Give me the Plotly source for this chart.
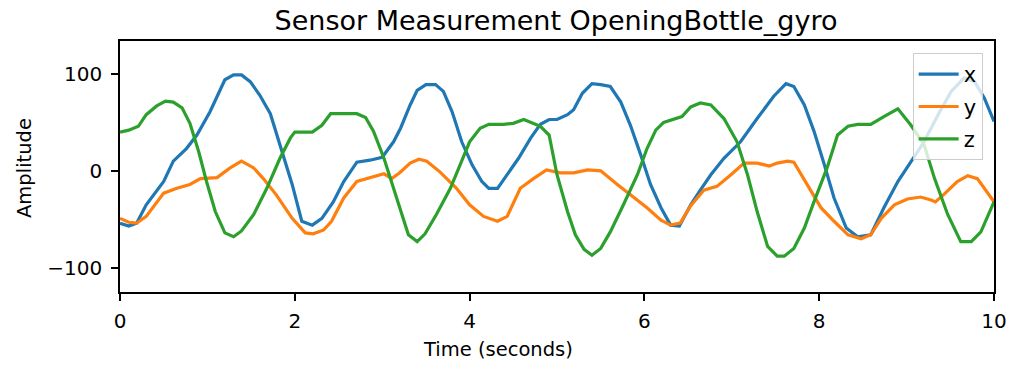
import plotly.graph_objects as go

# Time stamps (seconds) and readings for each gyro axis
t_x = [0, 0.1, 0.19, 0.3, 0.5, 0.61, 0.76, 0.88, 1.03, 1.2, 1.3, 1.39, 1.49, 1.6, 1.72, 1.83, 1.97,
       2.08, 2.2, 2.31, 2.44, 2.56, 2.71, 2.86, 3.0, 3.13, 3.21, 3.32, 3.4, 3.5, 3.61, 3.7, 3.8, 3.91,
       4.03, 4.14, 4.22, 4.32, 4.43, 4.56, 4.7, 4.81, 4.91, 5.0, 5.12, 5.19, 5.29, 5.4, 5.5, 5.61,
       5.73, 5.84, 5.96, 6.07, 6.19, 6.3, 6.4, 6.53, 6.64, 6.76, 6.91, 7.1, 7.29, 7.48, 7.62, 7.71,
       7.83, 7.94, 8.06, 8.17, 8.31, 8.44, 8.59, 8.74, 8.9, 9.05, 9.2, 9.36, 9.51, 9.66, 9.78, 9.89, 10.0]
x_vals = [-54, -57, -54, -35, -11, 10, 23, 37, 61, 94, 99, 99, 92, 78, 59, 27, -14,
          -52, -56, -49, -32, -11, 9, 11, 14, 30, 44, 68, 83, 89, 89, 82, 61, 30,
          6, -11, -18, -18, -4, 13, 34, 48, 53, 53, 58, 63, 80, 90, 89, 87,
          71, 47, 16, -14, -38, -56, -57, -35, -20, -4, 13, 30, 54, 77, 90, 87,
          68, 41, 6, -28, -59, -68, -66, -38, -11, 10, 30, 58, 82, 96, 92, 75, 51]

t_y = [0, 0.1, 0.19, 0.3, 0.5, 0.65, 0.8, 0.92, 1.11, 1.26, 1.39, 1.53, 1.64, 1.79, 1.97, 2.12,
       2.21, 2.33, 2.42, 2.56, 2.71, 2.86, 3.02, 3.11, 3.2, 3.32, 3.42, 3.51, 3.66, 3.85, 4.0,
       4.16, 4.32, 4.43, 4.58, 4.73, 4.88, 5.04, 5.19, 5.35, 5.5, 5.69, 5.88, 6.03, 6.19, 6.3,
       6.41, 6.53, 6.68, 6.83, 6.99, 7.14, 7.29, 7.43, 7.52, 7.64, 7.71, 7.86, 8.02, 8.17, 8.33,
       8.48, 8.59, 8.71, 8.86, 9.01, 9.16, 9.28, 9.33, 9.43, 9.58, 9.7, 9.81, 10.0]
y_vals = [-49, -53, -54, -47, -23, -18, -14, -8, -7, 3, 10, 3, -8, -25, -49, -64,
          -65, -61, -52, -28, -11, -7, -3, -8, -2, 8, 12, 10, -1, -18, -35,
          -47, -52, -47, -18, -8, 1, -2, -2, 1, 0, -14, -28, -38, -51, -56,
          -54, -36, -20, -16, -4, 8, 8, 5, 8, 10, 9, -14, -38, -52, -66,
          -70, -66, -49, -35, -29, -27, -30, -32, -24, -11, -5, -8, -32]

t_z = [0, 0.1, 0.21, 0.3, 0.42, 0.52, 0.61, 0.71, 0.8, 0.9, 0.99, 1.09, 1.2, 1.3, 1.39, 1.53,
       1.68, 1.83, 1.95, 2.0, 2.2, 2.31, 2.41, 2.56, 2.71, 2.81, 2.9, 3.02, 3.13, 3.23, 3.3, 3.4,
       3.49, 3.62, 3.78, 3.89, 4.0, 4.12, 4.22, 4.39, 4.5, 4.62, 4.73, 4.81, 4.91, 5.0, 5.12,
       5.21, 5.31, 5.4, 5.5, 5.61, 5.76, 5.92, 6.03, 6.13, 6.22, 6.38, 6.43, 6.53, 6.64, 6.76,
       6.91, 7.06, 7.18, 7.29, 7.41, 7.52, 7.6, 7.71, 7.83, 7.94, 8.09, 8.21, 8.33, 8.44, 8.59,
       8.74, 8.9, 9.05, 9.2, 9.32, 9.47, 9.62, 9.74, 9.85, 10.0]
z_vals = [40, 42, 46, 58, 67, 72, 71, 65, 49, 20, -11, -42, -64, -68, -62, -45,
          -18, 13, 34, 40, 40, 47, 59, 59, 59, 55, 41, 13, -18, -45, -66, -73,
          -65, -45, -18, 6, 30, 44, 48, 48, 49, 53, 49, 46, 37, -4, -42,
          -66, -81, -87, -80, -63, -35, -4, 23, 42, 50, 54, 56, 66, 70, 68,
          54, 30, -4, -42, -78, -88, -88, -80, -59, -32, 3, 37, 46, 48, 48,
          56, 64, 47, 27, -8, -45, -73, -73, -63, -32]

series = [("x", t_x, x_vals, "#1f77b4"),
          ("y", t_y, y_vals, "#ff7f0e"),
          ("z", t_z, z_vals, "#2ca02c")]

x_ticks = [0, 2, 4, 6, 8, 10]
y_ticks = [-100, 0, 100]

FONT = "DejaVu Sans"
W, H = 1011, 366
ML, MR, MT, MB = 120, 17, 41, 74

fig = go.Figure()
for name, t, v, c in series:
    fig.add_trace(go.Scatter(x=t, y=v, mode="lines", name=name, legendgroup=name,
                             line=dict(color=c, width=3.2)))

axis_common = dict(showline=True, linecolor="black", linewidth=1.6, mirror=True,
                   ticks="outside", ticklen=7, tickwidth=1.6, tickcolor="black",
                   showgrid=False, zeroline=False, automargin=False,
                   tickfont=dict(family=FONT, size=20, color="black"))

fig.update_xaxes(range=[0, 10], tickvals=x_ticks, ticktext=[str(v) for v in x_ticks],
                 ticklabelstandoff=3, **axis_common)
fig.update_yaxes(range=[-125, 134], tickvals=y_ticks,
                 ticktext=["\u2212100", "0", "100"], ticklabelstandoff=5,
                 **axis_common)

fig.add_annotation(text="Time (seconds)", xref="paper", yref="paper",
                   x=(498 - ML) / (W - ML - MR), y=-(349 - (H - MB)) / (H - MT - MB),
                   xanchor="center", yanchor="middle", showarrow=False,
                   font=dict(family=FONT, size=19.5, color="black"))
fig.add_annotation(text="Amplitude", xref="paper", yref="paper", textangle=-90,
                   x=-(ML - 24) / (W - ML - MR), y=(H - MB - 168) / (H - MT - MB),
                   xanchor="center", yanchor="middle", showarrow=False,
                   font=dict(family=FONT, size=19.5, color="black"))

fig.update_layout(
    width=W, height=H,
    margin=dict(l=ML, r=MR, t=MT, b=MB),
    paper_bgcolor="white", plot_bgcolor="white",
    title=dict(text="Sensor Measurement OpeningBottle_gyro", x=556 / W, xanchor="center",
               y=1 - 21 / H, yanchor="middle", yref="container", xref="container",
               font=dict(family=FONT, size=27, color="black")),
    legend=dict(x=0.987, xanchor="right", y=0.952, yanchor="top",
                bgcolor="rgba(255,255,255,0.8)", bordercolor="#cccccc", borderwidth=1,
                font=dict(family=FONT, size=21, color="black"), tracegroupgap=2,
                itemwidth=40, entrywidth=50, entrywidthmode="pixels"),
    showlegend=True,
)

fig.write_html("out.html", config={"displayModeBar": False},
               post_script="document.body.style.margin='0';document.body.style.overflow='hidden';")
